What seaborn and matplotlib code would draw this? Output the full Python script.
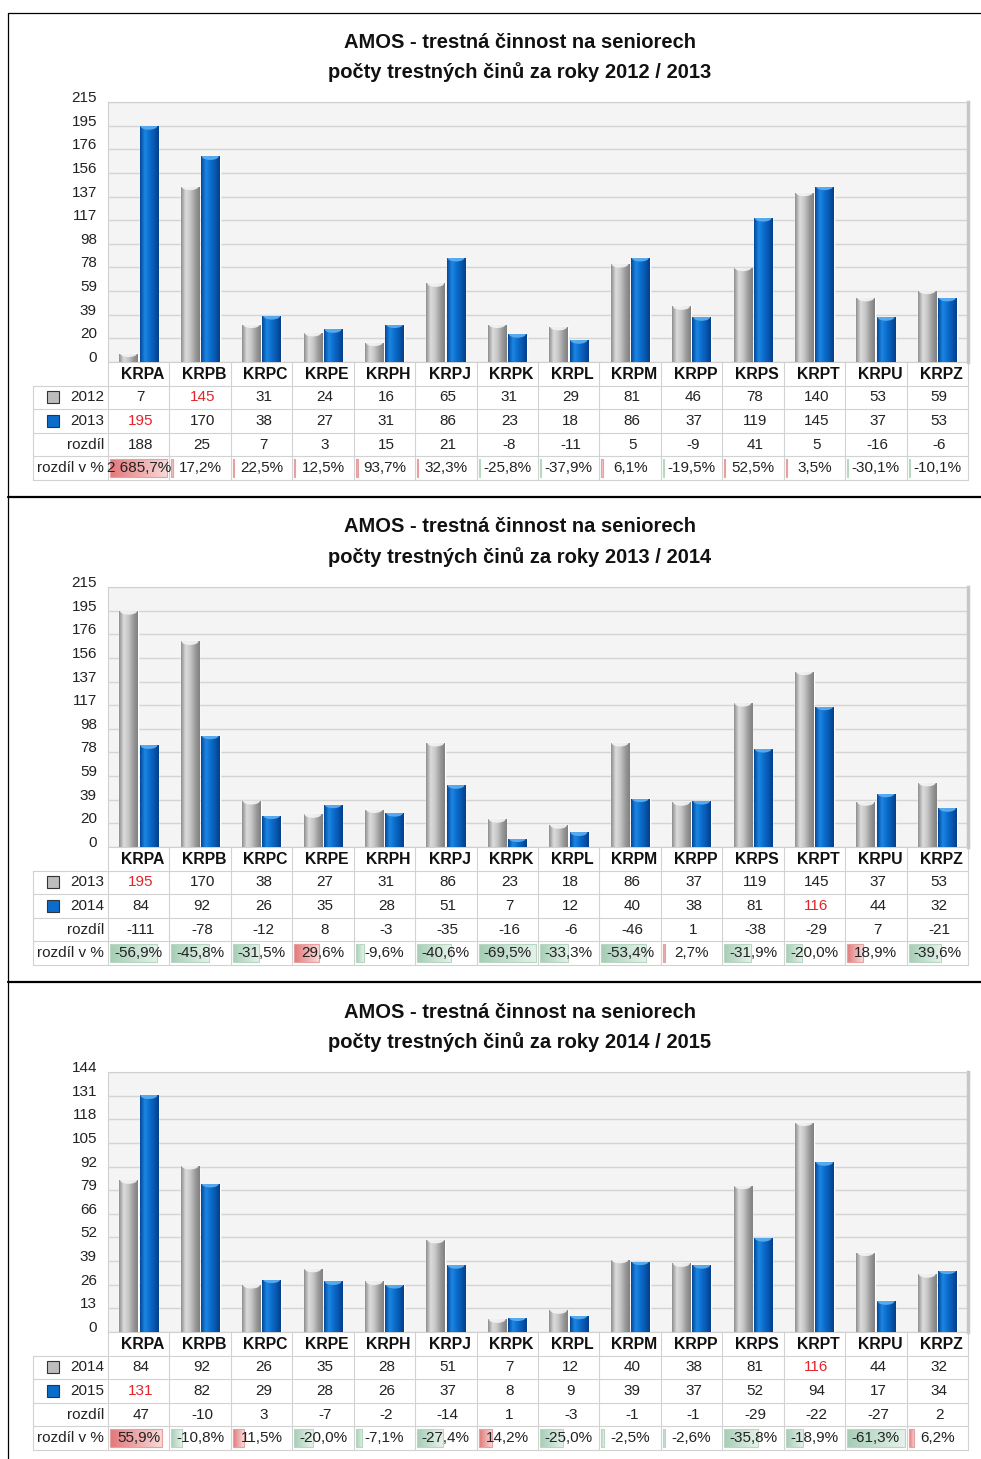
import numpy as np
import pandas as pd
import matplotlib
matplotlib.use("Agg")
import matplotlib.pyplot as plt
import seaborn as sns
from matplotlib.patches import Rectangle, Ellipse
from matplotlib.colors import LinearSegmentedColormap

# data
regions = ["KRPA", "KRPB", "KRPC", "KRPE", "KRPH", "KRPJ", "KRPK",
           "KRPL", "KRPM", "KRPP", "KRPS", "KRPT", "KRPU", "KRPZ"]

counts_2012 = [7, 145, 31, 24, 16, 65, 31, 29, 81, 46, 78, 140, 53, 59]
counts_2013 = [195, 170, 38, 27, 31, 86, 23, 18, 86, 37, 119, 145, 37, 53]
counts_2014 = [84, 92, 26, 35, 28, 51, 7, 12, 40, 38, 81, 116, 44, 32]
counts_2015 = [131, 82, 29, 28, 26, 37, 8, 9, 39, 37, 52, 94, 17, 34]

diff_1213 = [188, 25, 7, 3, 15, 21, -8, -11, 5, -9, 41, 5, -16, -6]
diff_1314 = [-111, -78, -12, 8, -3, -35, -16, -6, -46, 1, -38, -29, 7, -21]
diff_1415 = [47, -10, 3, -7, -2, -14, 1, -3, -1, -1, -29, -22, -27, 2]

pct_1213 = [2685.7, 17.2, 22.5, 12.5, 93.7, 32.3, -25.8, -37.9, 6.1, -19.5, 52.5, 3.5, -30.1, -10.1]
pct_1314 = [-56.9, -45.8, -31.5, 29.6, -9.6, -40.6, -69.5, -33.3, -53.4, 2.7, -31.9, -20.0, 18.9, -39.6]
pct_1415 = [55.9, -10.8, 11.5, -20.0, -7.1, -27.4, 14.2, -25.0, -2.5, -2.6, -35.8, -18.9, -61.3, 6.2]

yticks_1213 = ["0", "20", "39", "59", "78", "98", "117", "137", "156", "176", "195", "215"]
yticks_1314 = ["0", "20", "39", "59", "78", "98", "117", "137", "156", "176", "195", "215"]
yticks_1415 = ["0", "13", "26", "39", "52", "66", "79", "92", "105", "118", "131", "144"]
ymax_list = [215, 215, 144]

panels = [
    ("2012", "2013", counts_2012, counts_2013, diff_1213, pct_1213, yticks_1213),
    ("2013", "2014", counts_2013, counts_2014, diff_1314, pct_1314, yticks_1314),
    ("2014", "2015", counts_2014, counts_2015, diff_1415, pct_1415, yticks_1415),
]

sns.set_style("white")
plt.rcParams["font.family"] = ["Liberation Sans", "DejaVu Sans"]

W, H = 981, 1459
fig = plt.figure(figsize=(W / 100, H / 100), dpi=100)
ov = fig.add_axes([0, 0, 1, 1], zorder=0)
ov.set_xlim(0, W)
ov.set_ylim(H, 0)
ov.axis("off")

GRAY, BLUE = "#BDBDBD", "#0A6CCB"
gray_cm = LinearSegmentedColormap.from_list("g", ["#8E8E8E", "#DCDCDC", "#C6C6C6", "#9C9C9C", "#808080"])
blue_cm = LinearSegmentedColormap.from_list("b", ["#04479A", "#1C86E2", "#0B6ECE", "#0858B0", "#043E8A"])
red_cm = LinearSegmentedColormap.from_list("r", ["#E2787A", "#F8DADA"])
green_cm = LinearSegmentedColormap.from_list("gr", ["#A6CDB6", "#E6F2EA"])
grad = np.linspace(0, 1, 64)[np.newaxis, :]

PL, PR = 108, 968
col_w = (PR - PL) / len(regions)
row_h = 23.6
LBL_L = 33
line_c = "#D2D2D2"
TXT = "#222222"
FS = 11


def fmt_pct(v):
    s = f"{v:,.1f}".replace(",", " ").replace(".", ",")
    return s + "%"


for k, (ya, yb, ca, cb, diff, pct, ytl) in enumerate(panels):
    dy = 485 * k
    ymax = ymax_list[k]
    top, bot = 102 + dy, 362 + dy

    # title
    ov.text(520, 42 + dy, "AMOS - trestná činnost na seniorech", ha="center", va="center",
            fontsize=14.5, fontweight="bold", color="#111111")
    ov.text(520, 72 + dy, f"počty trestných činů za roky {ya} / {yb}", ha="center", va="center",
            fontsize=14.5, fontweight="bold", color="#111111")

    # bar chart
    ax = fig.add_axes([PL / W, 1 - bot / H, (PR - PL) / W, (bot - top) / H], zorder=1)
    df = pd.DataFrame({"region": regions * 2, "count": list(ca) + list(cb),
                       "year": [ya] * len(regions) + [yb] * len(regions)})
    sns.barplot(data=df, x="region", y="count", hue="year", palette=[GRAY, BLUE],
                width=0.66, gap=0.08, saturation=1, legend=False, ax=ax, zorder=3)
    ax.set_facecolor("#F4F4F4")
    cap_h = 7 / (bot - top) * ymax
    for cont, cm, capc in zip(ax.containers, [gray_cm, blue_cm], ["#F4F4F4", "#5FB0F2"]):
        for p in cont:
            x0, w, h = p.get_x(), p.get_width(), p.get_height()
            im = ax.imshow(grad, extent=[x0, x0 + w, 0, h], aspect="auto", cmap=cm, zorder=4)
            im.set_clip_path(p)
            e = Ellipse((x0 + w / 2, h), w * 0.9, cap_h, facecolor=capc, edgecolor="none",
                        zorder=5, alpha=0.9)
            ax.add_patch(e)
            e.set_clip_path(p)
    ax.set_xlim(-0.5, len(regions) - 0.5)
    ax.set_ylim(0, ymax)
    ax.set_yticks(np.linspace(0, ymax, 12))
    ax.set_yticklabels(ytl)
    for t in ax.get_yticklabels():
        t.set_va("baseline")
    ax.set_xticks([])
    ax.tick_params(axis="y", length=0, pad=8, labelsize=11, labelcolor=TXT)
    ax.set_xlabel("")
    ax.set_ylabel("")
    ax.yaxis.grid(True, color="#D4D4D4", lw=1)
    ax.set_axisbelow(True)
    for s in ["top", "left", "bottom"]:
        ax.spines[s].set_color("#D0D0D0")
        ax.spines[s].set_linewidth(0.8)
    ax.spines["right"].set_color("#C6C6C6")
    ax.spines["right"].set_linewidth(2.5)

    # table
    edges = [bot + i * row_h for i in range(6)]
    for i in range(1, 6):
        ov.plot([LBL_L, PR], [edges[i], edges[i]], color=line_c, lw=0.8)
    ov.plot([LBL_L, LBL_L], [edges[1], edges[5]], color=line_c, lw=0.8)
    for j in range(len(regions) + 1):
        ov.plot([PL + j * col_w] * 2, [edges[0], edges[5]], color=line_c, lw=0.8)
    centers = [(edges[i] + edges[i + 1]) / 2 for i in range(5)]

    for j, r in enumerate(regions):
        ov.text(PL + (j + 0.5) * col_w + 4, centers[0] + 0.5, r, ha="center", va="center",
                fontsize=11.3, fontweight="bold", color="#111111")

    # row labels and swatches
    for ri, (lab, sw) in enumerate([(ya, GRAY), (yb, BLUE)]):
        cy = centers[ri + 1]
        ov.add_patch(Rectangle((47, cy - 6), 12, 12, facecolor=sw, edgecolor="#333333", lw=0.8))
        ov.text(104, cy, lab, ha="right", va="center", fontsize=FS, color=TXT)
    ov.text(104, centers[3], "rozdíl", ha="right", va="center", fontsize=FS, color=TXT)
    ov.text(104, centers[4], "rozdíl v %", ha="right", va="center", fontsize=FS, color=TXT)

    for ri, vals in enumerate([ca, cb]):
        mx = int(np.argmax(vals))
        for j, v in enumerate(vals):
            ov.text(PL + (j + 0.5) * col_w + 2, centers[ri + 1], str(v), ha="center", va="center",
                    fontsize=FS, color="#E3242B" if j == mx else TXT)
    for j, v in enumerate(diff):
        ov.text(PL + (j + 0.5) * col_w + 2, centers[3], str(v), ha="center", va="center",
                fontsize=FS, color=TXT)

    maxabs = max(abs(v) for v in pct)
    for j, v in enumerate(pct):
        cx0 = PL + j * col_w + 2
        bw = max(abs(v) / maxabs * (col_w - 4), 1.2)
        y0, y1 = edges[4] + 3, edges[5] - 3
        cm = red_cm if v > 0 else green_cm
        ec = "#E6A0A0" if v > 0 else "#B8D7C3"
        ov.imshow(grad, extent=[cx0, cx0 + bw, y1, y0], aspect="auto", cmap=cm, zorder=1)
        ov.add_patch(Rectangle((cx0, y0), bw, y1 - y0, facecolor="none", edgecolor=ec,
                               lw=0.8, zorder=2))
        ov.text(PL + (j + 0.5) * col_w, centers[4], fmt_pct(v), ha="center", va="center",
                fontsize=FS, color=TXT, zorder=3)

# frame lines
ov.plot([8, W], [13, 13], color="black", lw=0.9)
ov.plot([8, 8], [13, H], color="black", lw=0.9)
for yy in [497, 982]:
    ov.plot([8, W], [yy, yy], color="black", lw=1.6)
ov.set_xlim(0, W)
ov.set_ylim(H, 0)

fig.savefig("out.png", dpi=100)
